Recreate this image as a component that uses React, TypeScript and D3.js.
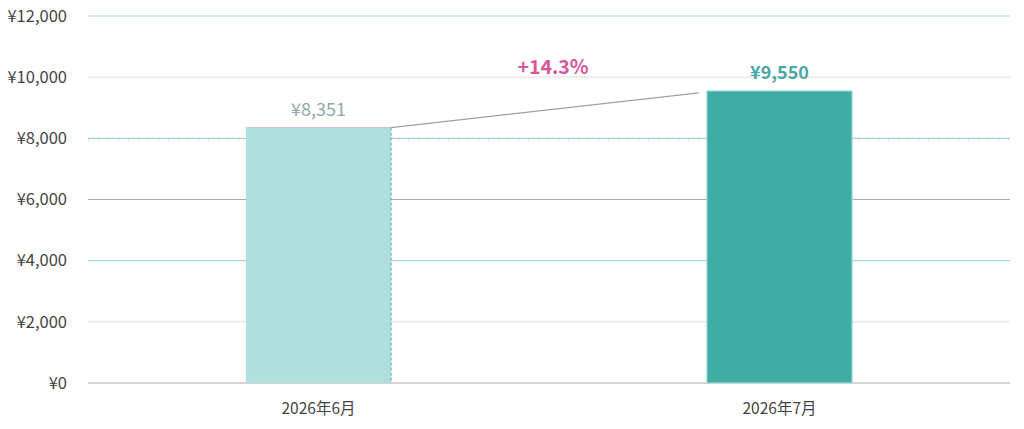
import * as d3 from 'd3'

const months = ['2026年6月', '2026年7月']
const amounts = [8351, 9550]
const yTicks = [0, 2000, 4000, 6000, 8000, 10000, 12000]
const growthLabel = '+14.3%'

const W = 1024
const H = 429
const m = { top: 16, right: 14, bottom: 46, left: 88 }

export default function App() {
  const x = d3.scaleBand<string>().domain(months).range([m.left, W - m.right]).padding(0)
  const y = d3.scaleLinear().domain([0, 12000]).range([H - m.bottom, m.top])
  const bw = x.bandwidth() * 0.315
  const fmt = (v: number) => '¥' + d3.format(',')(v)
  const font = '"Noto Sans CJK JP", "Noto Sans", sans-serif'

  // gridlines alternate teal / light gray / gray like the source
  const grid = (v: number) => {
    if (v === 0 || v === 6000) return { stroke: '#a9a9a9', w: 1 }
    if (v === 2000 || v === 10000) return { stroke: '#ececec', w: 2 }
    return { stroke: '#a8d8d5', w: 1.2 }
  }

  const bx = (i: number) => (x(months[i]) ?? 0) + x.bandwidth() / 2 - bw / 2
  const cx = (i: number) => (x(months[i]) ?? 0) + x.bandwidth() / 2

  return (
    <svg width={W} height={H} style={{ position: 'absolute', left: 0, top: 0, fontFamily: font }}>
      <rect width={W} height={H} fill="#fff" />
      {yTicks.map(v => {
        const g = grid(v)
        return (
          <g key={v}>
            <line x1={m.left} x2={W - m.right} y1={y(v)} y2={y(v)} stroke={g.stroke} strokeWidth={g.w} />
            {v === 8000 && (
              <line x1={m.left} x2={W - m.right} y1={y(v) + 1} y2={y(v) + 1} stroke="#9bbdbb" strokeWidth={1} strokeDasharray="1,9" />
            )}
            <text x={67} y={y(v)} dy="0.35em" textAnchor="end" fontSize={16.5} fill="#444">{fmt(v)}</text>
          </g>
        )
      })}
      {/* June bar */}
      <rect x={bx(0)} y={y(amounts[0])} width={bw} height={y(0) - y(amounts[0])} fill="#b0e0dd" />
      <line x1={bx(0) + bw} x2={bx(0) + bw} y1={y(amounts[0])} y2={y(0)} stroke="#5fa9a4" strokeWidth={1} strokeDasharray="3,2" />
      <line x1={bx(0)} x2={bx(0) + bw} y1={y(amounts[0])} y2={y(amounts[0])} stroke="#d8b8d0" strokeWidth={1} />
      {/* July bar */}
      <rect x={bx(1)} y={y(amounts[1])} width={bw} height={y(0) - y(amounts[1])} fill="#40aca6" stroke="#a9dcd8" strokeWidth={1.2} />
      {/* connector */}
      <line x1={bx(0) + bw} y1={y(amounts[0])} x2={bx(1) - 8} y2={y(amounts[1]) + 2} stroke="#a0a0a0" strokeWidth={1.2} />
      <text x={cx(0)} y={y(amounts[0]) - 12} textAnchor="middle" fontSize={18} fill="#8fa9a8">{fmt(amounts[0])}</text>
      <text x={cx(1)} y={y(amounts[1]) - 12} textAnchor="middle" fontSize={18} fontWeight="bold" fill="#4aa9a4">{fmt(amounts[1])}</text>
      <text x={(cx(0) + cx(1)) / 2 + 4} y={y(amounts[1]) - 17} textAnchor="middle" fontSize={19.5} fontWeight="bold" fill="#d6579a">{growthLabel}</text>
      {months.map((c, i) => (
        <text key={c} x={cx(i)} y={414} textAnchor="middle" fontSize={15.5} fill="#444">{c}</text>
      ))}
    </svg>
  )
}
